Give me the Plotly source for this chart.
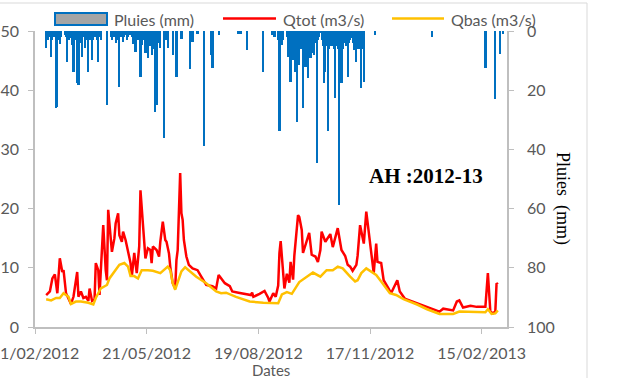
import plotly.graph_objects as go

# Daily rainfall (mm), days with rain only
rain_dates = [
    "2012-03-01", "2012-03-02", "2012-03-03", "2012-03-04", "2012-03-05", "2012-03-06",
    "2012-03-07", "2012-03-08", "2012-03-09", "2012-03-10", "2012-03-11", "2012-03-12",
    "2012-03-13", "2012-03-16", "2012-03-17", "2012-03-18", "2012-03-19", "2012-03-20",
    "2012-03-21", "2012-03-22", "2012-03-23", "2012-03-24", "2012-03-25", "2012-03-26",
    "2012-03-27", "2012-03-28", "2012-03-29", "2012-03-30", "2012-03-31", "2012-04-01",
    "2012-04-02", "2012-04-03", "2012-04-04", "2012-04-05", "2012-04-06", "2012-04-07",
    "2012-04-08", "2012-04-09", "2012-04-10", "2012-04-11", "2012-04-12", "2012-04-13",
    "2012-04-14", "2012-04-19", "2012-04-22", "2012-04-23", "2012-04-24", "2012-04-25",
    "2012-04-26", "2012-04-27", "2012-04-28", "2012-04-29", "2012-04-30", "2012-05-01",
    "2012-05-02", "2012-05-03", "2012-05-04", "2012-05-05", "2012-05-06", "2012-05-07",
    "2012-05-08", "2012-05-09", "2012-05-10", "2012-05-11", "2012-05-12", "2012-05-13",
    "2012-05-14", "2012-05-15", "2012-05-16", "2012-05-17", "2012-05-18", "2012-05-19",
    "2012-05-20", "2012-05-21", "2012-05-22", "2012-05-23", "2012-05-24", "2012-05-25",
    "2012-05-26", "2012-05-27", "2012-05-28", "2012-05-29", "2012-05-30", "2012-05-31",
    "2012-06-01", "2012-06-04", "2012-06-06", "2012-06-07", "2012-06-11", "2012-06-14",
    "2012-06-18", "2012-06-25", "2012-06-27", "2012-07-01", "2012-07-06", "2012-07-12",
    "2012-07-13", "2012-07-18", "2012-08-03", "2012-08-05", "2012-08-10", "2012-08-23",
    "2012-08-30", "2012-09-01", "2012-09-04", "2012-09-05", "2012-09-06", "2012-09-07",
    "2012-09-08", "2012-09-11", "2012-09-12", "2012-09-13", "2012-09-14", "2012-09-15",
    "2012-09-16", "2012-09-17", "2012-09-18", "2012-09-19", "2012-09-20", "2012-09-21",
    "2012-09-22", "2012-09-23", "2012-09-24", "2012-09-25", "2012-09-26", "2012-09-27",
    "2012-09-28", "2012-09-29", "2012-09-30", "2012-10-01", "2012-10-02", "2012-10-03",
    "2012-10-04", "2012-10-05", "2012-10-06", "2012-10-07", "2012-10-08", "2012-10-09",
    "2012-10-10", "2012-10-11", "2012-10-12", "2012-10-13", "2012-10-14", "2012-10-15",
    "2012-10-16", "2012-10-17", "2012-10-18", "2012-10-19", "2012-10-20", "2012-10-21",
    "2012-10-22", "2012-10-23", "2012-10-24", "2012-10-25", "2012-10-26", "2012-10-27",
    "2012-10-28", "2012-10-29", "2012-10-30", "2012-10-31", "2012-11-01", "2012-11-02",
    "2012-11-03", "2012-11-04", "2012-11-05", "2012-11-06", "2012-11-07", "2012-11-08",
    "2012-11-09", "2012-11-10", "2012-11-11", "2012-11-12", "2012-11-21", "2013-01-06",
    "2013-02-18", "2013-02-26", "2013-03-02", "2013-03-04",
]
rain_mm = [
    5.6, 3, 2, 1.5, 8.7, 3,
    2, 1.5, 26, 25.7, 3, 4.5,
    2, 1.5, 2, 10.4, 3, 2,
    2.5, 4.7, 14, 3, 2, 17.6,
    18.2, 4, 2.5, 8.7, 2, 5.6,
    2, 3, 13.8, 3, 2, 9.8,
    3, 2, 1.5, 3, 10.6, 2,
    3, 25, 2, 3, 1.5, 2,
    4, 2, 3, 18.9, 2, 1.5,
    3.7, 2, 1.5, 3, 2, 1,
    1.5, 2, 4.5, 2, 7, 3,
    2, 3, 15.5, 4.8, 2, 3,
    7.5, 3, 9, 4, 5, 8,
    6, 5, 27.5, 25, 4, 3,
    5.6, 36, 3, 5.6, 8, 15.5,
    2.7, 12.9, 3.6, 1, 38.9, 8,
    12.5, 1.5, 1, 1, 6.4, 13.7,
    1.5, 2, 3, 33.8, 2, 4.7,
    3, 2, 8.7, 3, 17.2, 4,
    9.8, 5, 13.8, 30.7, 5, 11.5,
    6, 5, 26, 6, 12, 5,
    16, 6, 9, 7.5, 5, 8,
    4, 44.6, 3, 2, 0.5, 3,
    5, 17.6, 13.8, 5, 33.8, 6,
    4.7, 5, 4, 6, 22.6, 5,
    6, 58.8, 5, 17.6, 6, 4,
    3.6, 5, 15.5, 4, 3, 2.4,
    4, 6.4, 5, 10.4, 6, 5,
    6, 19.3, 6, 17.2, 1.3, 2,
    12.5, 23, 7.7, 1,
]

# Total discharge (m3/s)
qtot_dates = [
    "2012-03-01", "2012-03-04", "2012-03-06", "2012-03-08", "2012-03-10", "2012-03-12",
    "2012-03-14", "2012-03-15", "2012-03-17", "2012-03-19", "2012-03-21", "2012-03-23",
    "2012-03-26", "2012-03-27", "2012-03-29", "2012-03-31", "2012-04-02", "2012-04-04",
    "2012-04-05", "2012-04-07", "2012-04-09", "2012-04-10", "2012-04-12", "2012-04-13",
    "2012-04-14", "2012-04-16", "2012-04-18", "2012-04-19", "2012-04-20", "2012-04-22",
    "2012-04-23", "2012-04-25", "2012-04-26", "2012-04-28", "2012-04-29", "2012-05-01",
    "2012-05-02", "2012-05-04", "2012-05-06", "2012-05-08", "2012-05-09", "2012-05-11",
    "2012-05-13", "2012-05-15", "2012-05-16", "2012-05-18", "2012-05-20", "2012-05-22",
    "2012-05-24", "2012-05-25", "2012-05-26", "2012-05-29", "2012-05-31", "2012-06-01",
    "2012-06-03", "2012-06-05", "2012-06-06", "2012-06-08", "2012-06-09", "2012-06-11",
    "2012-06-13", "2012-06-14", "2012-06-15", "2012-06-17", "2012-06-18", "2012-06-19",
    "2012-06-20", "2012-06-22", "2012-06-24", "2012-06-27", "2012-07-01", "2012-07-04",
    "2012-07-08", "2012-07-13", "2012-07-16", "2012-07-18", "2012-07-20", "2012-07-23",
    "2012-07-27", "2012-07-29", "2012-08-03", "2012-08-09", "2012-08-13", "2012-08-14",
    "2012-08-15", "2012-08-20", "2012-08-24", "2012-08-27", "2012-08-28", "2012-08-31",
    "2012-09-02", "2012-09-04", "2012-09-05", "2012-09-06", "2012-09-08", "2012-09-09",
    "2012-09-11", "2012-09-13", "2012-09-14", "2012-09-16", "2012-09-17", "2012-09-19",
    "2012-09-20", "2012-09-21", "2012-09-23", "2012-09-24", "2012-09-27", "2012-09-28",
    "2012-09-29", "2012-10-01", "2012-10-04", "2012-10-06", "2012-10-08", "2012-10-09",
    "2012-10-12", "2012-10-16", "2012-10-18", "2012-10-22", "2012-10-25", "2012-10-28",
    "2012-10-30", "2012-11-01", "2012-11-03", "2012-11-06", "2012-11-07", "2012-11-09",
    "2012-11-12", "2012-11-14", "2012-11-16", "2012-11-18", "2012-11-20", "2012-11-22",
    "2012-11-23", "2012-11-26", "2012-11-28", "2012-12-02", "2012-12-04", "2012-12-09",
    "2012-12-11", "2012-12-15", "2012-12-25", "2013-01-04", "2013-01-12", "2013-01-15",
    "2013-01-23", "2013-01-26", "2013-01-28", "2013-01-31", "2013-02-06", "2013-02-11",
    "2013-02-17", "2013-02-18", "2013-02-20", "2013-02-22", "2013-02-24", "2013-02-26",
    "2013-02-27", "2013-02-28",
]
qtot = [
    5.4, 6.0, 8.2, 8.9, 5.7, 11.6,
    9.3, 9.6, 5.7, 4.9, 3.9, 5.1,
    9.3, 5.1, 6.0, 4.9, 5.1, 4.4,
    6.5, 4.4, 4.7, 10.8, 9.6, 5.4,
    9.6, 17.2, 9.6, 7.9, 19.8, 15.0,
    12.7, 15.0, 17.5, 19.2, 15.5, 14.4,
    16.1, 14.7, 12.7, 10.8, 8.5, 12.5,
    9.1, 13.6, 23.1, 17.5, 11.6, 13.3,
    13.0, 10.8, 13.6, 13.0, 11.9, 14.4,
    17.8, 14.7, 14.4, 12.4, 10.2, 7.4,
    6.5, 11.3, 13.0, 26.0, 19.2, 18.1,
    14.7, 11.9, 10.5, 9.9, 9.6, 8.5,
    7.1, 6.9, 6.5, 8.8, 8.3, 7.4,
    6.9, 6.0, 5.8, 5.6, 5.4, 5.8,
    5.1, 5.6, 6.1, 4.9, 4.3, 5.7,
    5.1, 7.0, 12.5, 14.5, 8.0, 6.5,
    9.0, 7.5, 11.0, 8.0, 12.0, 16.0,
    18.9, 18.6, 16.4, 12.5, 14.7, 15.5,
    15.9, 12.2, 11.9, 11.0, 13.0, 16.1,
    14.4, 15.7, 13.5, 16.7, 13.0, 12.0,
    10.5, 10.2, 9.5, 10.5, 12.0, 17.2,
    14.1, 19.5, 15.7, 12.2, 9.1, 14.1,
    11.0, 10.8, 7.9, 6.5, 5.7, 7.9,
    6.0, 4.8, 4.0, 3.3, 2.6, 3.1,
    2.8, 4.3, 4.5, 3.3, 3.6, 3.4,
    3.3, 3.4, 9.1, 2.6, 2.3, 2.6,
    7.4, 7.2,
]

# Baseflow (m3/s)
qbas_dates = [
    "2012-03-01", "2012-03-05", "2012-03-09", "2012-03-12", "2012-03-15", "2012-03-19",
    "2012-03-21", "2012-03-25", "2012-03-29", "2012-04-04", "2012-04-08", "2012-04-10",
    "2012-04-14", "2012-04-19", "2012-04-21", "2012-04-25", "2012-04-29", "2012-05-03",
    "2012-05-06", "2012-05-08", "2012-05-11", "2012-05-14", "2012-05-17", "2012-05-22",
    "2012-05-26", "2012-06-01", "2012-06-05", "2012-06-07", "2012-06-09", "2012-06-11",
    "2012-06-13", "2012-06-16", "2012-06-18", "2012-06-21", "2012-06-25", "2012-06-30",
    "2012-07-08", "2012-07-16", "2012-07-20", "2012-07-24", "2012-08-01", "2012-08-12",
    "2012-08-23", "2012-08-28", "2012-09-04", "2012-09-07", "2012-09-11", "2012-09-15",
    "2012-09-21", "2012-10-02", "2012-10-08", "2012-10-13", "2012-10-18", "2012-10-22",
    "2012-10-26", "2012-11-01", "2012-11-05", "2012-11-07", "2012-11-10", "2012-11-14",
    "2012-11-18", "2012-11-22", "2012-11-26", "2012-11-30", "2012-12-03", "2012-12-08",
    "2012-12-14", "2012-12-25", "2013-01-02", "2013-01-12", "2013-01-23", "2013-01-28",
    "2013-02-18", "2013-02-20", "2013-02-23", "2013-02-26", "2013-02-28",
]
qbas = [
    4.7, 4.5, 4.9, 4.9, 5.7, 5.1,
    3.9, 4.3, 4.3, 4.1, 3.8, 4.9,
    6.5, 7.1, 8.2, 9.3, 10.5, 10.8,
    10.2, 8.6, 8.6, 8.2, 9.6, 9.6,
    9.5, 9.1, 9.9, 10.2, 9.6, 7.4,
    6.3, 8.0, 9.4, 10.1, 9.4, 8.5,
    7.4, 6.0, 5.7, 5.8, 5.1, 4.3,
    4.1, 4.1, 4.0, 5.5, 5.9, 5.6,
    7.6, 9.2, 8.5, 9.6, 9.6, 10.2,
    9.9, 8.5, 7.7, 7.9, 9.1, 9.9,
    9.4, 8.8, 7.7, 6.5, 5.7, 5.4,
    4.7, 3.8, 3.0, 2.2, 2.2, 2.6,
    2.5, 3.0, 2.2, 2.3, 2.8,
]

legend_labels = ["Pluies (mm)", "Qtot (m3/s)", "Qbas (m3/s)"]

BLUE = "#0070C0"
RED = "#FF0000"
ORANGE = "#FFC000"
GREY_TXT = "#595959"
AXIS_GREY = "#BFBFBF"
SANS = "Lato, Open Sans, sans-serif"
SERIF = "Liberation Serif, Times New Roman, serif"

W, H = 627, 378
ML, MR, MT, MB = 35, 120, 31, 51
PW, PH = W - ML - MR, H - MT - MB


def fx(px):
    return (px - ML) / PW


def fy(py):
    return (H - MB - py) / PH


DAY_MS = 86400000

fig = go.Figure()
fig.add_trace(go.Bar(
    x=rain_dates, y=rain_mm, yaxis="y2", name=legend_labels[0],
    marker=dict(color=BLUE, line=dict(width=0)),
    width=1.8 * DAY_MS, showlegend=False,
))
fig.add_trace(go.Scatter(
    x=qtot_dates, y=qtot, mode="lines", name=legend_labels[1],
    line=dict(color=RED, width=2.5), showlegend=False,
))
fig.add_trace(go.Scatter(
    x=qbas_dates, y=qbas, mode="lines", name=legend_labels[2],
    line=dict(color=ORANGE, width=2.5), showlegend=False,
))

tick_font = dict(family=SANS, size=16, color=GREY_TXT)
common_axis = dict(
    ticks="outside", ticklen=5, tickcolor=AXIS_GREY, tickwidth=1,
    showline=True, linecolor=AXIS_GREY, linewidth=1.5,
    showgrid=False, zeroline=False, automargin=False,
    tickfont=tick_font, ticklabeloverflow="allow",
)

fig.update_layout(
    width=W, height=H,
    margin=dict(l=ML, r=MR, t=MT, b=MB, pad=0, autoexpand=False),
    paper_bgcolor="white", plot_bgcolor="white",
    bargap=0,
    xaxis=dict(
        type="date",
        range=["2012-02-21", "2013-03-07 10:00"],
        tick0="2012-02-21", dtick=90 * DAY_MS, tickformat="%d/%m/%Y",
        ticklabelstandoff=6,
        **common_axis,
    ),
    yaxis=dict(range=[0, 50], dtick=10, ticklabelstandoff=6, **common_axis),
    yaxis2=dict(
        range=[100, 0], dtick=20, overlaying="y", side="right",
        ticklabelstandoff=10, **common_axis,
    ),
)

shapes = [
    # outer chart frame
    dict(type="rect", xref="paper", yref="paper",
         x0=fx(-10), x1=fx(587), y0=fy(390), y1=fy(3),
         line=dict(color="#D9D9D9", width=1), fillcolor="rgba(0,0,0,0)", layer="below"),
    # legend swatches
    dict(type="rect", xref="paper", yref="paper",
         x0=fx(55), x1=fx(107), y0=fy(25), y1=fy(13),
         line=dict(color=BLUE, width=2), fillcolor="#A5A5A5"),
    dict(type="line", xref="paper", yref="paper",
         x0=fx(223), x1=fx(276), y0=fy(18.5), y1=fy(18.5),
         line=dict(color=RED, width=2.5)),
    dict(type="line", xref="paper", yref="paper",
         x0=fx(392), x1=fx(444), y0=fy(18.5), y1=fy(18.5),
         line=dict(color=ORANGE, width=2.5)),
]

legend_text_x = [112, 281, 449]
annotations = [
    dict(text=lab, xref="paper", yref="paper", x=fx(px), y=fy(19.5),
         xanchor="left", yanchor="middle", showarrow=False,
         font=dict(family=SANS, size=16, color=GREY_TXT))
    for lab, px in zip(legend_labels, legend_text_x)
]
annotations += [
    dict(text="Dates", xref="paper", yref="paper", x=fx(271), y=fy(370),
         xanchor="center", yanchor="middle", showarrow=False,
         font=dict(family=SANS, size=15, color=GREY_TXT)),
    dict(text="Pluies  (mm)", xref="paper", yref="paper", x=fx(563), y=fy(198),
         xanchor="center", yanchor="middle", showarrow=False, textangle=90,
         font=dict(family=SERIF, size=18, color="black")),
    dict(text="<b>AH :2012-13</b>", xref="paper", yref="paper", x=fx(425.5), y=fy(176),
         xanchor="center", yanchor="middle", showarrow=False,
         font=dict(family=SERIF, size=21, color="black")),
]

fig.update_layout(shapes=shapes, annotations=annotations)

fig.write_html("out.html")
